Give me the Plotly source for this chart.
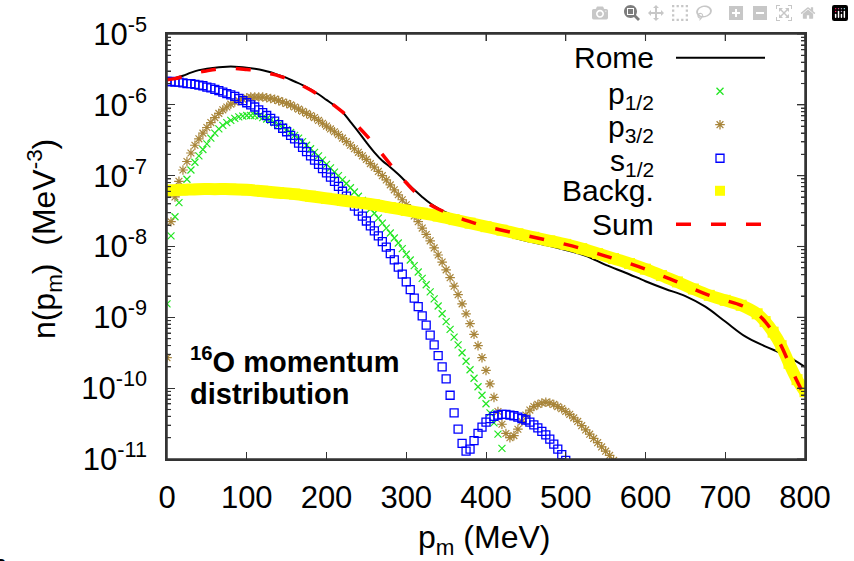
import math
import plotly.graph_objects as go

# ---------------- data (log10 of n(p_m) in MeV^-3) ----------------
p_half_p = list(range(0, 435, 5))          # p1/2 momentum grid (MeV)
log_p12 = [-8.81, -7.85, -7.58, -7.38, -7.20, -7.05, -6.92, -6.81, -6.72, -6.63,
           -6.55, -6.47, -6.40, -6.34, -6.29, -6.25, -6.22, -6.19, -6.17, -6.16,
           -6.15, -6.15, -6.15, -6.16, -6.18, -6.20, -6.22, -6.25, -6.28, -6.31,
           -6.35, -6.39, -6.43, -6.47, -6.52, -6.57, -6.62, -6.67, -6.72, -6.78,
           -6.84, -6.89, -6.95, -7.00, -7.06, -7.11, -7.17, -7.23, -7.29, -7.35,
           -7.41, -7.47, -7.53, -7.60, -7.67, -7.74, -7.81, -7.88, -7.95, -8.03,
           -8.11, -8.19, -8.27, -8.36, -8.45, -8.54, -8.64, -8.74, -8.84, -8.95,
           -9.06, -9.17, -9.28, -9.39, -9.50, -9.62, -9.74, -9.86, -9.98, -10.10,
           -10.22, -10.35, -10.49, -10.65, -10.85, -11.10, -11.40]

p_threehalf_p = list(range(0, 565, 5))     # p3/2 momentum grid (MeV)
log_p32 = [-9.57, -7.65, -7.30, -7.08, -6.92, -6.80, -6.68, -6.57, -6.48, -6.40,
           -6.32, -6.25, -6.18, -6.12, -6.07, -6.03, -5.99, -5.96, -5.94, -5.92,
           -5.90, -5.89, -5.89, -5.89, -5.89, -5.90, -5.91, -5.92, -5.94, -5.96,
           -5.98, -6.00, -6.03, -6.06, -6.09, -6.12, -6.15, -6.18, -6.22, -6.26,
           -6.30, -6.34, -6.38, -6.42, -6.47, -6.52, -6.57, -6.62, -6.67, -6.72,
           -6.77, -6.83, -6.88, -6.94, -7.00, -7.06, -7.13, -7.20, -7.27, -7.34,
           -7.41, -7.49, -7.57, -7.65, -7.74, -7.83, -7.92, -8.02, -8.12, -8.22,
           -8.33, -8.44, -8.56, -8.68, -8.81, -8.95, -9.09, -9.24, -9.40, -9.57,
           -9.75, -9.94, -10.13, -10.33, -10.51, -10.64, -10.70, -10.67, -10.58, -10.47,
           -10.38, -10.31, -10.26, -10.23, -10.21, -10.20, -10.21, -10.23, -10.26, -10.29,
           -10.33, -10.37, -10.42, -10.47, -10.53, -10.59, -10.65, -10.71, -10.77, -10.83,
           -10.89, -10.95, -11.02]

p_s12 = list(range(0, 505, 5))             # s1/2 momentum grid (MeV)
log_s12 = [-5.67, -5.67, -5.68, -5.68, -5.69, -5.70, -5.70, -5.71, -5.72, -5.73,
           -5.75, -5.76, -5.78, -5.80, -5.82, -5.84, -5.86, -5.88, -5.91, -5.94,
           -5.97, -6.00, -6.03, -6.07, -6.11, -6.15, -6.19, -6.23, -6.28, -6.33,
           -6.38, -6.43, -6.48, -6.54, -6.60, -6.66, -6.72, -6.78, -6.84, -6.90,
           -6.96, -7.02, -7.08, -7.15, -7.22, -7.29, -7.36, -7.43, -7.50, -7.57,
           -7.64, -7.71, -7.78, -7.85, -7.93, -8.01, -8.10, -8.19, -8.29, -8.39,
           -8.50, -8.61, -8.73, -8.85, -8.98, -9.11, -9.25, -9.39, -9.54, -9.70,
           -9.87, -10.10, -10.35, -10.58, -10.78, -10.89, -10.86, -10.74, -10.64, -10.55,
           -10.48, -10.43, -10.40, -10.38, -10.37, -10.37, -10.38, -10.39, -10.41, -10.43,
           -10.45, -10.48, -10.52, -10.56, -10.61, -10.66, -10.72, -10.79, -10.86, -10.94,
           -11.02]

p_bg = [0, 20, 40, 60, 80, 100, 120, 140, 160, 180, 200, 220, 240, 260, 280, 300,
        320, 340, 360, 380, 400, 420, 440, 460, 480, 500, 520, 540, 560, 580, 600,
        620, 640, 660, 680, 700, 720, 740, 750, 760, 770, 780, 790, 800]
log_bg = [-7.21, -7.20, -7.19, -7.19, -7.19, -7.20, -7.22, -7.24, -7.26, -7.29,
          -7.32, -7.35, -7.38, -7.41, -7.45, -7.49, -7.53, -7.57, -7.62, -7.67,
          -7.72, -7.77, -7.82, -7.87, -7.92, -7.97, -8.03, -8.10, -8.17, -8.24,
          -8.32, -8.41, -8.50, -8.60, -8.69, -8.76, -8.83, -8.95, -9.06, -9.21,
          -9.40, -9.65, -9.88, -10.05]

p_rome = [0, 10, 20, 30, 40, 50, 60, 70, 80, 90, 100, 110, 120, 130, 140, 150, 160,
          170, 180, 190, 200, 210, 220, 230, 240, 250, 260, 270, 280, 290, 300, 310,
          320, 330, 340, 350, 360, 375, 390, 410, 430, 450, 475, 500, 525, 550, 575,
          600, 625, 650, 675, 700, 725, 750, 775, 800]
log_rome = [-5.645, -5.62, -5.59, -5.545, -5.51, -5.49, -5.475, -5.465, -5.46, -5.465,
            -5.475, -5.49, -5.51, -5.54, -5.58, -5.62, -5.67, -5.72, -5.78, -5.85,
            -5.93, -6.01, -6.10, -6.24, -6.38, -6.53, -6.67, -6.79, -6.88, -6.98,
            -7.09, -7.20, -7.30, -7.39, -7.46, -7.52, -7.57, -7.64, -7.71, -7.79,
            -7.86, -7.92, -7.98, -8.05, -8.13, -8.26, -8.37, -8.49, -8.60, -8.70,
            -8.85, -9.06, -9.27, -9.41, -9.53, -9.70]

p_sum = [0, 10, 20, 30, 40, 50, 60, 70, 80, 90, 100, 110, 120, 130, 140, 150, 160,
         170, 180, 190, 200, 210, 220, 230, 240, 250, 260, 270, 280, 290, 300, 310,
         320, 330, 340, 350, 360, 380, 400, 420, 440, 460, 480, 500, 520, 540, 560,
         580, 600, 620, 640, 660, 680, 700, 720, 740, 750, 760, 770, 780, 790, 800]
log_sum = [-5.645, -5.63, -5.60, -5.57, -5.54, -5.52, -5.50, -5.49, -5.485, -5.49,
           -5.50, -5.51, -5.53, -5.56, -5.59, -5.63, -5.68, -5.73, -5.79, -5.86,
           -5.93, -6.01, -6.10, -6.20, -6.31, -6.43, -6.56, -6.70, -6.84, -6.98,
           -7.10, -7.22, -7.33, -7.41, -7.47, -7.52, -7.57, -7.65, -7.72, -7.77,
           -7.82, -7.87, -7.92, -7.97, -8.03, -8.10, -8.17, -8.24, -8.32, -8.41,
           -8.50, -8.60, -8.69, -8.76, -8.83, -8.95, -9.06, -9.21, -9.40, -9.65,
           -9.90, -10.12]

x_ticks = [0, 100, 200, 300, 400, 500, 600, 700, 800]
y_tick_exp = [-11, -10, -9, -8, -7, -6, -5]
X_MIN, X_MAX = 0, 800
Y_EXP_MIN, Y_EXP_MAX = -11, -5

legend_labels = ["Rome", "p<sub>1/2</sub>", "p<sub>3/2</sub>", "s<sub>1/2</sub>", "Backg.", "Sum"]

# ---------------- styles ----------------
C_ROME = "#000000"
C_P12 = "#22e622"
C_P32 = "#a8853a"
C_S12 = "#0000ff"
C_BG = "#ffff00"
C_SUM = "#ff0000"
C_AX = "#333333"
FONT = "Liberation Sans, Arial, sans-serif"

def tolin(v):
    return [10 ** a for a in v]

fig = go.Figure()
fig.add_trace(go.Scatter(x=p_rome, y=tolin(log_rome), mode="lines",
                         line=dict(color=C_ROME, width=2, shape="spline"), name="Rome"))
fig.add_trace(go.Scatter(x=p_half_p, y=tolin(log_p12), mode="markers",
                         marker=dict(symbol="x-thin-open", size=7, color=C_P12,
                                     line=dict(color=C_P12, width=1.2)),
                         name="p1/2"))
fig.add_trace(go.Scatter(x=p_threehalf_p, y=tolin(log_p32), mode="markers",
                         marker=dict(symbol="asterisk-open", size=8, color=C_P32,
                                     line=dict(color=C_P32, width=1.2)),
                         name="p3/2"))
fig.add_trace(go.Scatter(x=p_s12, y=tolin(log_s12), mode="markers",
                         marker=dict(symbol="square-open", size=8, color=C_S12,
                                     line=dict(color=C_S12, width=1.3)),
                         name="s1/2"))
fig.add_trace(go.Scatter(x=p_bg, y=tolin(log_bg), mode="lines+markers",
                         line=dict(color=C_BG, width=12, shape="spline"),
                         marker=dict(symbol="square", size=11, color=C_BG), name="Backg."))
fig.add_trace(go.Scatter(x=p_sum, y=tolin(log_sum), mode="lines",
                         line=dict(color=C_SUM, width=3.5, dash="15px,20px", shape="spline"),
                         name="Sum"))

# ---------------- geometry (page pixels; the body margin is removed below) ----------------
FIG_W, FIG_H = 854, 561
L, R, T, B = 167, 805, 28, 459          # plot frame in page pixels
W, H = R - L, B - T
def px(x):
    return (x - L) / W
def py(y):
    return (B - y) / H

# ---------------- frame and mirrored ticks (overlay axes span the plot area 0..1) ----------------
def fx(v):
    return (v - X_MIN) / (X_MAX - X_MIN)
def fy(e):
    return (e - Y_EXP_MIN) / (Y_EXP_MAX - Y_EXP_MIN)

fig.add_trace(go.Scatter(x=[0, 1, 1, 0, 0], y=[0, 0, 1, 1, 0], xaxis="x2", yaxis="y2",
                         mode="lines", line=dict(color=C_AX, width=1.5), cliponaxis=False,
                         showlegend=False, hoverinfo="skip"))
tx, ty = [], []
for v in x_ticks:                                  # top (mirrored) x ticks
    tx += [fx(v), fx(v), None]; ty += [1, 1 - 7 / H, None]
for e in y_tick_exp:                               # right (mirrored) major y ticks
    tx += [1, 1 - 8 / W, None]; ty += [fy(e), fy(e), None]
for e in range(Y_EXP_MIN, Y_EXP_MAX):              # minor y ticks, both sides
    for k in range(2, 10):
        f = fy(e + math.log10(k))
        tx += [1, 1 - 4 / W, None, 0, 4 / W, None]; ty += [f, f, None, f, f, None]
fig.add_trace(go.Scatter(x=tx, y=ty, xaxis="x2", yaxis="y2", mode="lines",
                         line=dict(color=C_AX, width=1.1), cliponaxis=False,
                         showlegend=False, hoverinfo="skip"))

# ---------------- manual legend (text right-aligned, sample at right, as in gnuplot) ----------------
row_y = [52, 86, 120, 154, 187, 221]
text_dy = [0, 4, 4, 4, 0, 0]
for lab, yy, dy in zip(legend_labels, row_y, text_dy):
    fig.add_annotation(x=px(656), y=py(yy + dy), xref="paper", yref="paper", text=lab,
                       showarrow=False, xanchor="right", yanchor="middle",
                       font=dict(family=FONT, size=30, color="black"))

fig.add_shape(type="line", xref="paper", yref="paper", x0=px(676), x1=px(765),
              y0=py(row_y[0]), y1=py(row_y[0]), line=dict(color=C_ROME, width=2))
fig.add_shape(type="line", xref="paper", yref="paper", x0=px(676), x1=px(765),
              y0=py(row_y[5]), y1=py(row_y[5]), line=dict(color=C_SUM, width=3.5, dash="15px,20px"))

sample_syms = [("x-thin-open", C_P12, 7), ("asterisk-open", C_P32, 8),
               ("square-open", C_S12, 8), ("square", C_BG, 10)]
for (sym, col, sz), yy in zip(sample_syms, row_y[1:5]):
    mk = dict(symbol=sym, size=sz, color=col, line=dict(color=col, width=1.3))
    if sym == "square":
        mk = dict(symbol=sym, size=sz, color=col)
    fig.add_trace(go.Scatter(x=[px(720)], y=[py(yy)], xaxis="x2", yaxis="y2", mode="markers",
                             marker=mk, showlegend=False, hoverinfo="skip"))

# ---------------- annotations ----------------
fig.add_annotation(x=px(188), y=py(359), xref="paper", yref="paper",
                   text="<b><sup>16</sup>O momentum</b>", showarrow=False,
                   xanchor="left", yanchor="middle", font=dict(family=FONT, size=29, color="black"))
fig.add_annotation(x=px(188), y=py(393), xref="paper", yref="paper",
                   text="<b>distribution</b>", showarrow=False,
                   xanchor="left", yanchor="middle", font=dict(family=FONT, size=29, color="black"))

fig.add_annotation(x=px(44), y=py(236), xref="paper", yref="paper",
                   text="n(p<sub>m</sub>)  (MeV<sup>-3</sup>)", textangle=-90, showarrow=False,
                   xanchor="center", yanchor="middle", font=dict(family=FONT, size=32, color="black"))
fig.add_annotation(x=px(484), y=py(541), xref="paper", yref="paper",
                   text="p<sub>m</sub> (MeV)", showarrow=False,
                   xanchor="center", yanchor="middle", font=dict(family=FONT, size=32, color="black"))
fig.add_annotation(x=px(10), y=py(546), xref="paper", yref="paper",
                   text="m", showarrow=False,
                   xanchor="right", yanchor="top", font=dict(family=FONT, size=32, color="black"))

# ---------------- layout ----------------
fig.update_layout(
    width=FIG_W, height=FIG_H,
    margin=dict(l=L, r=FIG_W - R, t=T, b=FIG_H - B),
    paper_bgcolor="white", plot_bgcolor="white",
    showlegend=False,
    font=dict(family=FONT, size=31, color="black"),
    xaxis=dict(range=[X_MIN, X_MAX], tickvals=x_ticks, ticktext=[str(v) for v in x_ticks],
               ticks="inside", ticklen=7, tickwidth=1.2, tickcolor=C_AX,
               showline=True, linecolor=C_AX, linewidth=1.5, mirror="ticks",
               showgrid=False, zeroline=False, ticklabelstandoff=10,
               tickfont=dict(family=FONT, size=31, color="black")),
    yaxis=dict(type="log", range=[Y_EXP_MIN - 0.0005, Y_EXP_MAX + 0.0005],
               tickvals=[10 ** e for e in y_tick_exp],
               ticktext=["10<sup>%d</sup>" % e for e in y_tick_exp],
               ticks="inside", ticklen=8, tickwidth=1.2, tickcolor=C_AX,
               minor=dict(ticks="inside", ticklen=4, tickwidth=1, tickcolor=C_AX, dtick="D1", showgrid=False),
               showline=True, linecolor=C_AX, linewidth=1.5, mirror="ticks",
               showgrid=False, zeroline=False, ticklabelstandoff=12,
               tickfont=dict(family=FONT, size=31, color="black")),
    xaxis2=dict(overlaying="x", range=[0, 1], visible=False),
    yaxis2=dict(overlaying="y", range=[0, 1], visible=False),
)

fig.write_html("out.html", post_script="document.body.style.margin='0px';")
